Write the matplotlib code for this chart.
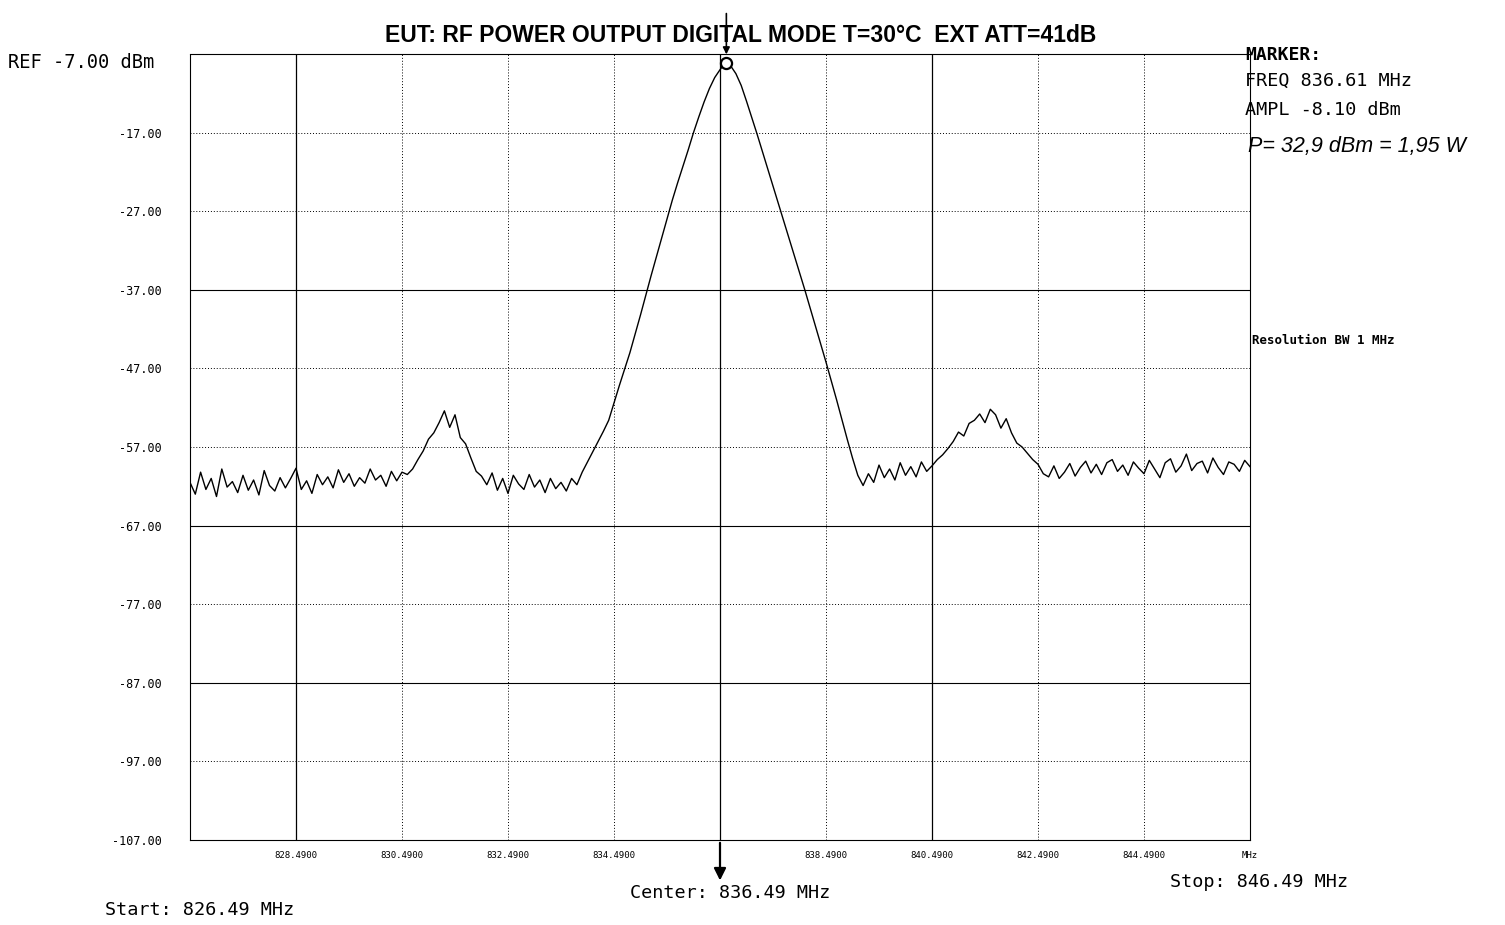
import numpy as np
import matplotlib
matplotlib.use("Agg")
import matplotlib.pyplot as plt

# sweep settings of the analyzer
START_MHZ = 826.49
STOP_MHZ = 846.49
REF_DBM = -7.0

# trace levels, 201 sweep points, 0.1 MHz apart
level_dbm = [
    # left noise floor 826.49 - 830.49
    -61.5, -63.0, -60.2, -62.4, -61.0, -63.3, -59.8, -62.1, -61.4, -62.8,
    -60.6, -62.5, -61.2, -63.1, -60.0, -61.9, -62.6, -60.9, -62.2, -61.0,
    -59.7, -62.4, -61.3, -62.9, -60.5, -61.8, -60.8, -62.2, -59.9, -61.5,
    -60.4, -62.0, -60.9, -61.6, -59.8, -61.2,
    -60.6, -62.0, -60.1, -61.3, -60.2,
    # lower side bump
    -60.5, -59.8, -58.6, -57.5, -56.0, -55.2, -53.9, -52.4, -54.5, -52.9,
    -55.8, -56.6, -58.4, -60.1, -60.7,
    # floor before the carrier
    -61.8, -60.3, -62.5, -61.0, -62.9, -60.6, -61.7, -62.4, -60.5, -62.1,
    -61.2, -62.8, -61.0, -62.3, -61.5, -62.6,
    # main carrier 833.69 - 839.19
    -61.0, -61.8, -60.2, -58.9, -57.6, -56.3, -55.0, -53.6, -51.4, -49.2,
    -47.1, -45.0, -42.6, -40.2, -37.7, -35.2, -32.8, -30.4, -28.0, -25.6,
    -23.4, -21.3, -19.2, -17.0, -15.0, -13.1, -11.4, -10.0, -9.0, -8.1,
    -8.5, -9.5, -11.0, -13.0, -15.1, -17.2, -19.4, -21.6, -23.8, -26.0,
    -28.2, -30.4, -32.6, -34.8, -37.0, -39.3, -41.6, -43.9, -46.2, -48.6,
    -51.0, -53.5, -56.0, -58.4, -60.6, -61.9,
    # floor after the carrier
    -60.4, -61.5, -59.3, -60.9, -59.8, -61.2, -59.0, -60.6, -59.5, -60.8,
    -58.9, -60.1,
    # upper side bump
    -59.4, -58.6, -58.0, -57.2, -56.3, -55.1, -55.6, -54.0, -53.6, -52.8,
    -53.9, -52.2, -52.9, -54.6, -53.4, -55.2, -56.5, -57.0, -57.8, -58.6,
    -59.2, -60.4,
    # right noise floor
    -60.8, -59.4, -61.0, -60.2, -59.1, -60.7, -59.6, -58.8, -60.3, -59.2,
    -60.5, -59.0, -58.6, -60.1, -59.3, -60.6, -58.9, -59.7, -60.4, -58.7,
    -59.8, -60.9, -59.0, -58.5, -60.2, -59.4, -57.9, -60.0, -59.1, -58.8,
    -60.3, -58.4, -59.6, -60.5, -58.9, -59.2, -60.1, -58.7, -59.5,
]

marker_freq = 836.61
marker_ampl = -8.10

x_tick_mhz = [826.49, 828.49, 830.49, 832.49, 834.49, 836.49,
              838.49, 840.49, 842.49, 844.49, 846.49]
x_tick_labels = ["", "828.4900", "830.4900", "832.4900", "834.4900", "",
                 "838.4900", "840.4900", "842.4900", "844.4900", "MHz"]
y_tick_dbm = [-107, -97, -87, -77, -67, -57, -47, -37, -27, -17, -7]
y_tick_labels = ["-107.00", "-97.00", "-87.00", "-77.00", "-67.00", "-57.00",
                 "-47.00", "-37.00", "-27.00", "-17.00", ""]

MONO = "DejaVu Sans Mono"

freq = np.linspace(START_MHZ, STOP_MHZ, len(level_dbm))

fig = plt.figure(figsize=(15.05, 9.25), dpi=100)
ax = fig.add_axes([190 / 1505, 1 - 840 / 925, 1060 / 1505, 786 / 925])

# graticule
for x in x_tick_mhz[1:-1]:
    solid = x in (828.49, 836.49, 840.49)
    ax.axvline(x, color="black", lw=0.9 if solid else 0.7,
               ls="-" if solid else (0, (1, 2)), zorder=1)
for y in y_tick_dbm[1:-1]:
    solid = y in (-37, -67, -87)
    ax.axhline(y, color="black", lw=0.8 if solid else 0.7,
               ls="-" if solid else (0, (1, 2)), zorder=1)

ax.plot(freq, level_dbm, color="black", lw=1.0, zorder=3)

# marker at the carrier peak
ax.plot([marker_freq], [marker_ampl], marker="o", ms=8, mfc="white",
        mec="black", mew=1.6, zorder=4)
ax.annotate("", xy=(marker_freq, marker_ampl + 0.7), xytext=(marker_freq, -1.5),
            arrowprops=dict(arrowstyle="-|>", color="black", lw=1.2),
            annotation_clip=False)
ax.annotate("", xy=(836.49, -112.5), xytext=(836.49, -107),
            arrowprops=dict(arrowstyle="-|>", color="black", lw=1.6,
                            mutation_scale=18),
            annotation_clip=False)

ax.set_xlim(START_MHZ, STOP_MHZ)
ax.set_ylim(-107, REF_DBM)
ax.set_xticks(x_tick_mhz)
ax.set_xticklabels(x_tick_labels, fontsize=6.5, family=MONO)
ax.set_yticks(y_tick_dbm)
ax.set_yticklabels(y_tick_labels, fontsize=8.5, family=MONO)
ax.tick_params(axis="both", length=0)
ax.tick_params(axis="y", pad=20)
ax.tick_params(axis="x", pad=8)
for s in ax.spines.values():
    s.set_linewidth(0.8)
    s.set_linestyle((0, (2, 1)))

fig.text(741 / 1505, 1 - 35 / 925,
         "EUT: RF POWER OUTPUT DIGITAL MODE T=30°C  EXT ATT=41dB",
         ha="center", va="center", fontsize=16.5, fontweight="bold",
         family="Liberation Sans")
fig.text(8 / 1505, 1 - 63 / 925, "REF -7.00 dBm", ha="left", va="center",
         fontsize=13.5, family=MONO)

fig.text(1245 / 1505, 1 - 55 / 925, "MARKER:", fontsize=13, fontweight="bold",
         family=MONO, va="center")
fig.text(1245 / 1505, 1 - 81 / 925, "FREQ 836.61 MHz", fontsize=13.3,
         family=MONO, va="center")
fig.text(1245 / 1505, 1 - 110 / 925, "AMPL -8.10 dBm", fontsize=13.3,
         family=MONO, va="center")
fig.text(1248 / 1505, 1 - 147 / 925, "P= 32,9 dBm = 1,95 W", fontsize=15.5,
         style="italic", family="Liberation Sans", va="center")
fig.text(1252 / 1505, 1 - 340 / 925, "Resolution BW 1 MHz", fontsize=9,
         fontweight="bold", family=MONO, va="center")

fig.text(105 / 1505, 1 - 910 / 925, "Start: 826.49 MHz", fontsize=13.3,
         family=MONO, va="center")
fig.text(630 / 1505, 1 - 893 / 925, "Center: 836.49 MHz", fontsize=13.3,
         family=MONO, va="center")
fig.text(1170 / 1505, 1 - 882 / 925, "Stop: 846.49 MHz", fontsize=13.3,
         family=MONO, va="center")

fig.savefig("out.png", dpi=100, facecolor="white")
plt.close(fig)
